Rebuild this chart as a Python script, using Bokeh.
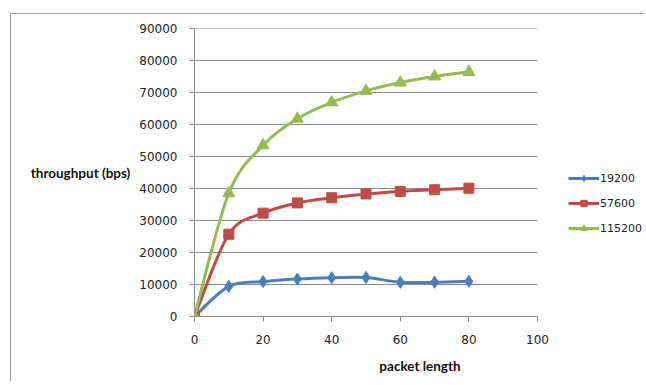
from bokeh.plotting import figure
from bokeh.models import Range1d, FixedTicker, Legend, LegendItem, ColumnDataSource
from bokeh.embed import file_html
from bokeh.resources import INLINE

packet_length = [0, 10, 20, 30, 40, 50, 60, 70, 80]
tp_19200 = [0, 9400, 10900, 11700, 12100, 12200, 10700, 10700, 11000]
tp_57600 = [0, 25700, 32300, 35500, 37100, 38300, 39100, 39600, 40100]
tp_115200 = [0, 38500, 53500, 61800, 66900, 70500, 73100, 75000, 76400]
series_names = ["19200", "57600", "115200"]
x_ticks = [0, 20, 40, 60, 80, 100]
y_ticks = [0, 10000, 20000, 30000, 40000, 50000, 60000, 70000, 80000, 90000]

colors = ["#4A7EBB", "#BE4B48", "#98B954"]
markers = ["diamond", "square", "triangle"]
msizes = [12, 10, 12]

W, H = 634, 368
LEFT, TOP, BOTTOM, RIGHT = 183, 14, 66, 0
FRAME_W = 343  # pixels spanned by packet length 0..100
x_end = x_ticks[-1] * (W - LEFT - RIGHT) / FRAME_W

p = figure(width=W, height=H, output_backend="svg", toolbar_location=None,
           x_range=Range1d(0, x_end), y_range=Range1d(0, y_ticks[-1]),
           min_border_left=LEFT, min_border_right=RIGHT, min_border_top=TOP,
           min_border_bottom=BOTTOM, background_fill_color="white",
           border_fill_color="white")
p.outline_line_color = None
p.styles = {"position": "relative", "left": "10px", "top": "13px",
            "border-top": "1px solid #9a9a9a", "border-left": "1px solid #9a9a9a"}

p.xaxis.ticker = FixedTicker(ticks=x_ticks)
p.yaxis.ticker = FixedTicker(ticks=y_ticks)
p.xaxis.bounds = (x_ticks[0], x_ticks[-1])
p.xgrid.grid_line_color = None
p.ygrid.grid_line_color = None
for ax in (p.xaxis, p.yaxis):
    ax.axis_line_color = "#8a8a8a"
    ax.major_tick_line_color = "#8a8a8a"
    ax.minor_tick_line_color = None
    ax.major_tick_in = 0
    ax.major_tick_out = 5
    ax.major_label_text_font = "DejaVu Sans"
    ax.major_label_text_font_size = "12px"
    ax.major_label_text_color = "#222222"
    ax.axis_label_text_font = "Lato"
    ax.axis_label_text_font_style = "bold"
    ax.axis_label_text_font_size = "13.5px"
    ax.axis_label_text_color = "#111111"
p.xaxis.axis_label = "packet length"
p.yaxis.axis_label = "throughput (bps)"
p.yaxis.axis_label_orientation = "horizontal"
p.xaxis.major_label_standoff = 13
p.yaxis.major_label_standoff = 12
p.xaxis.axis_label_standoff = 11
p.yaxis.axis_label_standoff = 6

# horizontal gridlines limited to the x-axis extent
p.segment(x0=x_ticks[0], x1=x_ticks[-1], y0=y_ticks, y1=y_ticks,
          line_color="#8a8a8a", line_width=1)


def smooth_segments(xs, ys):
    n = len(xs)
    d = dict(x0=[], y0=[], x1=[], y1=[], cx0=[], cy0=[], cx1=[], cy1=[])
    for i in range(n - 1):
        i0 = max(i - 1, 0)
        i3 = min(i + 2, n - 1)
        d["x0"].append(xs[i]); d["y0"].append(ys[i])
        d["x1"].append(xs[i + 1]); d["y1"].append(ys[i + 1])
        d["cx0"].append(xs[i] + (xs[i + 1] - xs[i0]) / 6)
        d["cy0"].append(ys[i] + (ys[i + 1] - ys[i0]) / 6)
        d["cx1"].append(xs[i + 1] - (xs[i3] - xs[i]) / 6)
        d["cy1"].append(ys[i + 1] - (ys[i3] - ys[i]) / 6)
    return ColumnDataSource(d)


items = []
for name, ys, c, m, s in zip(series_names, [tp_19200, tp_57600, tp_115200],
                             colors, markers, msizes):
    src = smooth_segments(packet_length, ys)
    b = p.bezier(x0="x0", y0="y0", x1="x1", y1="y1", cx0="cx0", cy0="cy0",
                 cx1="cx1", cy1="cy1", source=src, line_color=c, line_width=3)
    sc = p.scatter(packet_length, ys, marker=m, size=s, fill_color=c,
                   line_color=c, line_width=1)
    items.append(LegendItem(label=name, renderers=[b, sc]))

legend = Legend(items=items, location=(374, 80), orientation="vertical",
                label_text_font="DejaVu Sans", label_text_font_size="11px",
                label_text_color="#222222", glyph_width=31, glyph_height=16,
                spacing=9, padding=0, margin=0, label_standoff=1,
                border_line_color=None, background_fill_alpha=0)
p.add_layout(legend, "center")

open("out.html", "w").write(file_html(p, INLINE))
